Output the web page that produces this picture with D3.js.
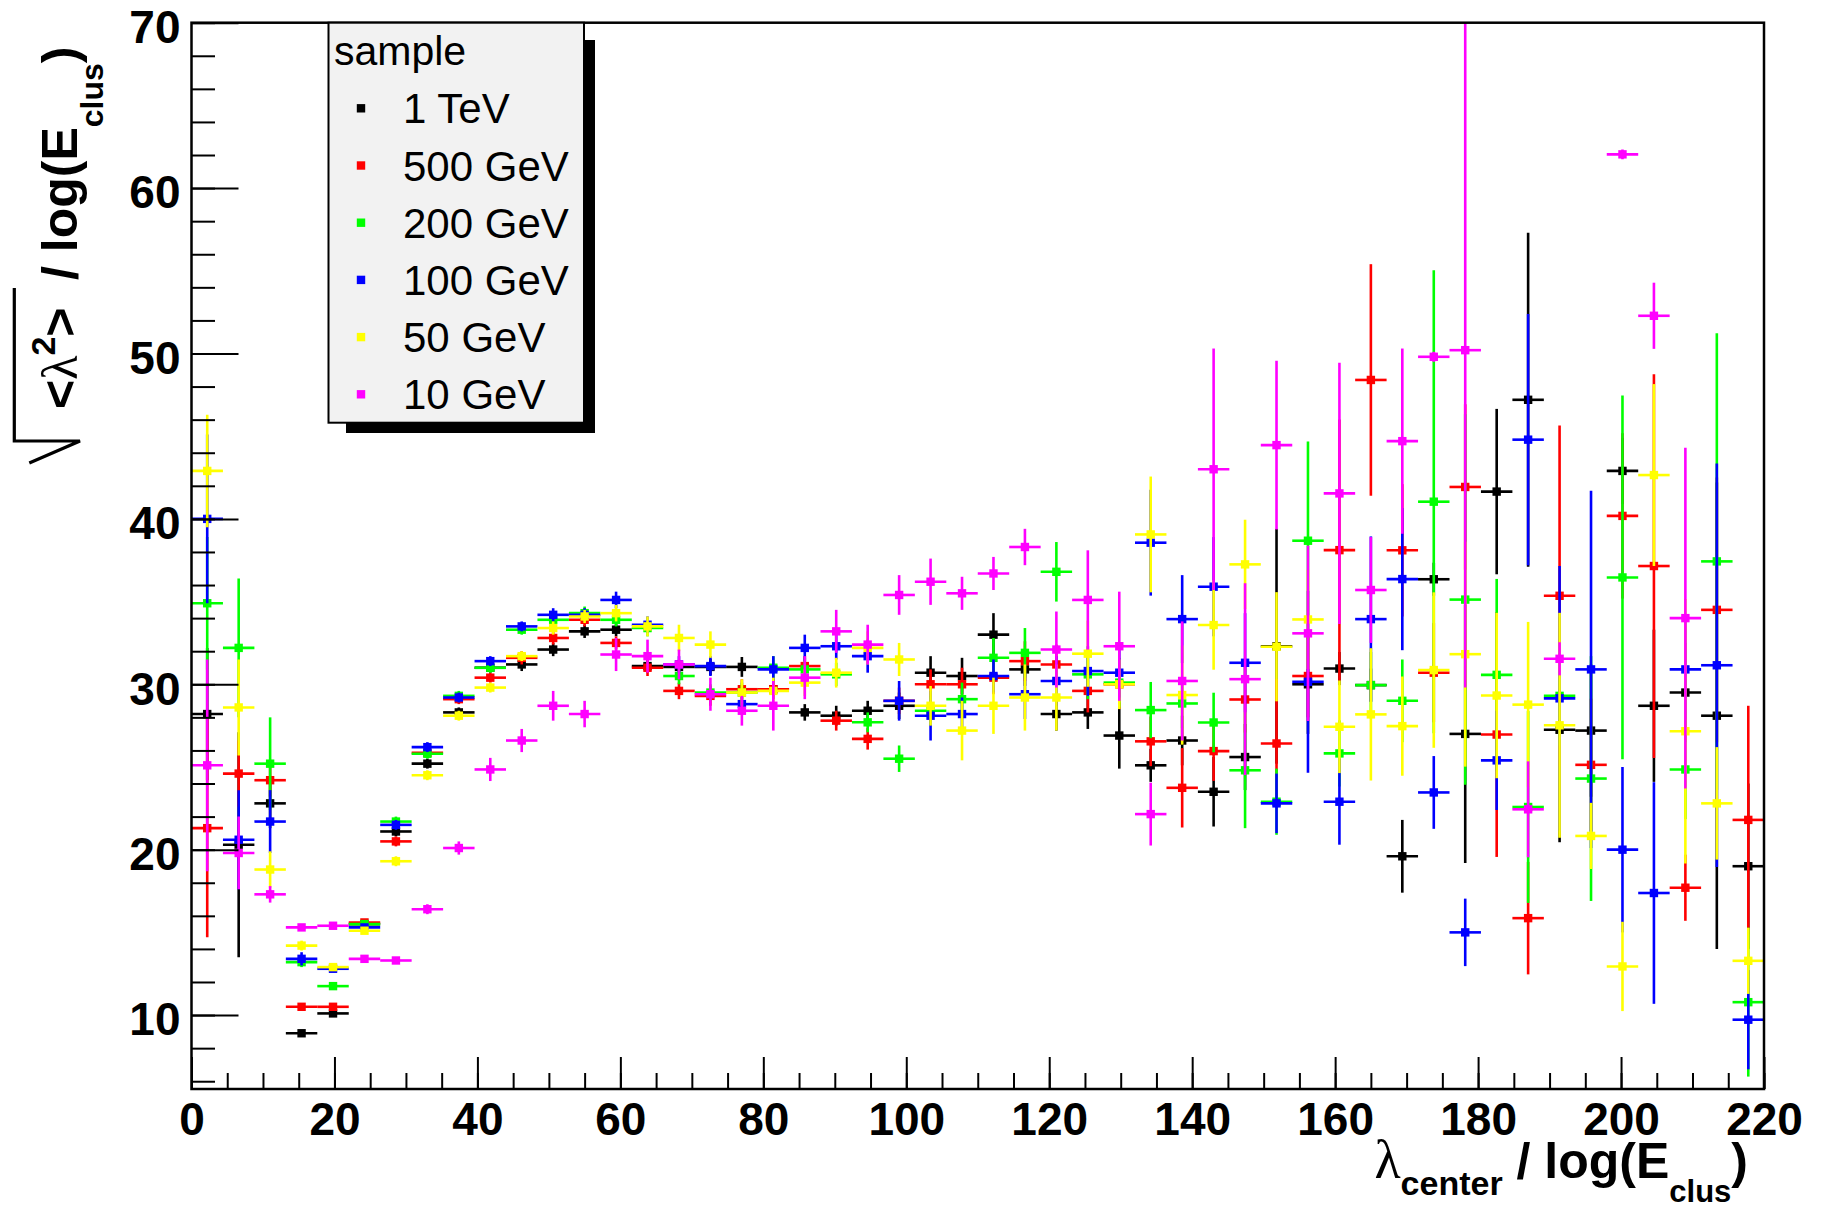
<!DOCTYPE html>
<html>
<head>
<meta charset="utf-8">
<script src="https://cdn.jsdelivr.net/npm/d3@7"></script>
<style>
  body { margin: 0; background: #fff; }
</style>
</head>
<body>
<svg id="chart" width="1821" height="1210"></svg>
<script>
// histogram binning: 50 bins between 0 and 220
var nBins = 50, xLow = 0, xHigh = 220;

var xTickLabels = [0, 20, 40, 60, 80, 100, 120, 140, 160, 180, 200, 220];
var yTickLabels = [10, 20, 30, 40, 50, 60, 70];

var sampleNames = ["1 TeV", "500 GeV", "200 GeV", "100 GeV", "50 GeV", "10 GeV"];
var sampleColors = ["#000000", "#ff0000", "#00ff00", "#0000ff", "#ffff00", "#ff00ff"];

// bin contents and errors (null = empty bin)
var val1TeV = [28.2,20.3,22.8,8.9,10.1,15.5,21.1,25.2,28.3,31.0,
  31.2,32.1,33.2,33.3,31.1,31.05,31.05,31.05,29.7,28.3,
  28.1,28.4,28.7,30.7,30.5,33.0,30.9,28.2,28.3,26.9,
  25.1,26.6,23.5,25.6,32.3,30.0,30.95,29.95,19.6,36.35,
  27.0,41.65,47.2,27.25,27.2,42.9,28.7,29.5,28.1,19.0];
var err1TeV = [4,6.8,1.5,0.2,0.2,0.2,0.3,0.3,0.3,0.3,
  0.4,0.4,0.4,0.4,0.4,0.4,0.5,0.6,0.6,0.5,
  0.6,0.6,0.8,1.0,1.1,1.3,1.0,1.0,1.0,2.0,
  1.0,1.5,2.1,2.0,7.1,3.0,1.0,1.0,2.2,1.0,
  7.8,5.0,10.1,6.8,4.0,2.0,4.6,3.0,14.1,5.0];

var val500 = [21.3,24.6,24.2,10.5,10.5,15.6,20.5,25.85,29.1,30.4,
  31.6,32.8,33.9,32.5,31.0,29.6,29.3,29.7,29.7,31.1,
  27.8,26.7,29.0,30.0,30.0,30.4,31.4,31.2,29.6,30.0,
  26.55,23.74,25.96,29.08,26.42,30.5,38.11,48.4,38.1,30.7,
  41.93,26.96,15.86,35.35,25.13,40.18,37.15,17.7,34.5,21.8];
var err500 = [6.6,2.0,1.0,0.2,0.2,0.2,0.3,0.3,0.3,0.3,
  0.4,0.4,0.4,0.4,0.5,0.5,0.6,0.6,0.6,0.6,
  0.6,0.65,0.8,0.9,1.0,1.0,1.2,1.2,1.3,1.5,
  1.5,2.4,1.8,2.0,3.9,2.5,7.9,7.0,4.0,3.0,
  5.0,7.4,3.4,10.3,4.0,5.0,11.6,2.0,8.0,6.9];

var val200 = [34.9,32.2,25.2,13.2,11.75,15.5,21.7,25.8,29.3,31.0,
  33.3,33.9,34.3,33.9,33.4,30.5,29.5,29.5,31.0,30.9,
  30.6,27.7,25.5,28.4,29.1,31.6,31.9,36.8,30.6,30.1,
  28.44,28.84,27.69,24.8,22.9,38.68,25.82,29.95,29.0,41.04,
  35.12,30.57,22.58,29.3,24.3,36.46,null,24.85,37.43,10.78];
var err200 = [4.0,4.2,2.8,0.3,0.2,0.2,0.3,0.3,0.3,0.3,
  0.3,0.4,0.4,0.4,0.5,0.5,0.5,0.6,0.7,0.7,
  0.7,0.6,0.8,0.9,1.0,1.2,1.5,1.8,1.5,1.5,
  1.7,1.5,1.8,3.5,2.0,6.0,2.0,2.0,2.5,14.0,
  11.2,5.8,5.8,3.0,7.4,11.0,0,3.0,13.8,4.5];

var val100 = [40.0,20.6,21.7,13.4,12.8,15.3,21.5,26.2,29.2,31.4,
  33.5,34.2,34.2,35.1,33.6,31.2,31.1,28.8,30.9,32.2,
  32.3,31.7,29.0,28.1,28.2,30.5,29.4,30.2,30.8,30.7,
  38.56,33.94,35.9,31.3,22.8,30.15,22.9,33.94,36.36,23.46,
  15.0,25.4,44.79,29.15,30.9,20.0,17.38,30.9,31.15,9.72];
var err100 = [5.1,3.0,1.9,0.4,0.2,0.2,0.3,0.3,0.3,0.3,
  0.3,0.4,0.4,0.5,0.5,0.5,0.6,0.6,0.8,0.8,
  0.8,1.0,1.2,1.5,1.0,1.0,1.5,1.5,1.5,1.5,
  3.2,2.66,3.0,3.0,1.8,5.5,2.6,5.0,4.3,2.2,
  2.04,3.0,7.6,8.0,10.8,5.0,6.7,3.0,12.2,3.0];

var val50 = [42.9,28.6,18.8,14.2,12.9,15.1,19.3,24.5,28.1,29.8,
  31.7,33.4,34.1,34.3,33.5,32.8,32.4,29.5,29.6,30.1,
  30.7,32.2,31.5,28.7,27.2,28.7,29.2,29.2,31.85,30.0,
  39.06,29.35,33.58,37.25,32.27,33.92,27.43,28.18,27.47,30.86,
  31.82,29.32,28.77,27.52,20.83,12.94,42.65,27.16,22.8,13.28];
var err50 = [3.4,2.9,1.1,0.3,0.2,0.2,0.3,0.3,0.3,0.3,
  0.3,0.4,0.4,0.5,0.6,0.8,0.8,0.8,0.8,0.8,
  0.9,1.0,1.0,1.2,1.8,1.7,2.0,2.0,2.0,1.5,
  3.5,3.0,2.7,2.7,3.3,3.0,2.8,4.0,3.0,4.7,
  6.8,5.0,5.0,6.8,2.0,2.7,5.5,8.0,3.4,2.0];

var val10 = [25.1,19.8,17.3,15.3,15.4,13.4,13.3,16.4,20.1,24.85,
  26.6,28.7,28.2,31.8,31.7,31.2,29.4,28.4,28.7,30.4,
  33.2,32.4,35.4,36.2,35.5,36.7,38.3,32.1,35.1,32.3,
  22.15,30.2,43.0,30.31,44.46,33.08,41.54,35.7,44.7,49.8,
  50.2,null,22.44,31.54,null,62.04,52.28,34.0,null,null];
var err10 = [6.4,2.2,0.5,0.2,0.2,0.2,0.2,0.3,0.4,0.7,
  0.7,0.9,0.8,1.0,1.0,0.9,1.0,0.9,1.5,1.3,
  1.3,1.2,1.2,1.4,1.0,1.0,1.1,2.3,3.0,3.3,
  1.9,3.6,7.3,5.8,5.1,5.3,7.9,3.2,5.6,0.3,
  20.4,0,2.9,1.0,0,0.3,2.0,10.3,0,0];

var allValues = [val1TeV, val500, val200, val100, val50, val10];
var allErrors = [err1TeV, err500, err200, err100, err50, err10];

function draw() {
  var svg = d3.select("#chart");
  var pLeft = 191.5, pRight = 1764, pTop = 22.7, pBottom = 1089;
  var binW = (xHigh - xLow) / nBins;

  var x = d3.scaleLinear().domain([xLow, xHigh]).range([pLeft, pRight]);
  var y = d3.scaleLinear().domain([5.53, 70]).range([pBottom, pTop]);

  svg.append("rect").attr("width", 1821).attr("height", 1210).attr("fill", "#fff");

  svg.append("clipPath").attr("id", "plotclip")
    .append("rect").attr("x", pLeft).attr("y", pTop)
    .attr("width", pRight - pLeft).attr("height", pBottom - pTop);

  // data: error bars + square markers, one histogram after the other
  var plot = svg.append("g").attr("clip-path", "url(#plotclip)");
  var lw = 2.6, ms = 8.4;
  allValues.forEach(function (vals, s) {
    var g = plot.append("g");
    var col = sampleColors[s];
    vals.forEach(function (v, i) {
      if (v === null) return;
      var e = allErrors[s][i];
      var lo = xLow + i * binW, hi = lo + binW, c = lo + binW / 2;
      g.append("line").attr("x1", x(lo)).attr("x2", x(hi))
        .attr("y1", y(v)).attr("y2", y(v))
        .attr("stroke", col).attr("stroke-width", lw);
      if (e > 0) {
        g.append("line").attr("x1", x(c)).attr("x2", x(c))
          .attr("y1", y(v - e)).attr("y2", y(v + e))
          .attr("stroke", col).attr("stroke-width", lw);
      }
      g.append("rect").attr("x", x(c) - ms / 2).attr("y", y(v) - ms / 2)
        .attr("width", ms).attr("height", ms).attr("fill", col);
    });
  });

  // axes, ticks pointing into the frame
  function styleAxis(g) {
    g.select(".domain").remove();
    g.selectAll("line").attr("stroke", "#000").attr("stroke-width", 2);
    g.selectAll("text").attr("fill", "#000")
      .style("font-family", "'Liberation Sans', Arial, sans-serif")
      .style("font-weight", "bold").style("font-size", "46px");
  }

  svg.append("g").attr("transform", "translate(0," + pBottom + ")")
    .call(d3.axisBottom(x).tickValues(d3.range(0, 221, 5)).tickSize(-16).tickFormat(""))
    .call(styleAxis);
  svg.append("g").attr("transform", "translate(0," + pBottom + ")")
    .call(d3.axisBottom(x).tickValues(xTickLabels).tickSize(-32).tickPadding(13)
      .tickFormat(d3.format("d")))
    .call(styleAxis);

  svg.append("g").attr("transform", "translate(" + pLeft + ",0)")
    .call(d3.axisLeft(y).tickValues(d3.range(6, 71, 2)).tickSize(-23.5).tickFormat(""))
    .call(styleAxis);
  svg.append("g").attr("transform", "translate(" + pLeft + ",0)")
    .call(d3.axisLeft(y).tickValues(yTickLabels).tickSize(-47).tickPadding(11)
      .tickFormat(d3.format("d")))
    .call(styleAxis)
    .selectAll("text").attr("dy", "0.43em");

  svg.append("rect").attr("x", pLeft).attr("y", pTop)
    .attr("width", pRight - pLeft).attr("height", pBottom - pTop)
    .attr("fill", "none").attr("stroke", "#000").attr("stroke-width", 2.5);

  // legend
  svg.append("rect").attr("x", 346).attr("y", 40).attr("width", 249).attr("height", 393)
    .attr("fill", "#000");
  svg.append("rect").attr("x", 328.5).attr("y", 22.7).attr("width", 255.5).attr("height", 400)
    .attr("fill", "#f2f2f2").attr("stroke", "#000").attr("stroke-width", 2);

  var sans = "'Liberation Sans', Arial, sans-serif";
  svg.append("text").attr("x", 334).attr("y", 65).text("sample")
    .style("font-family", sans).style("font-size", "41px");

  sampleNames.forEach(function (name, i) {
    var cy = 108.3 + i * 57.2;
    svg.append("rect").attr("x", 361 - 4.2).attr("y", cy - 4.2)
      .attr("width", 8.4).attr("height", 8.4).attr("fill", sampleColors[i]);
    svg.append("text").attr("x", 403).attr("y", cy + 15).text(name)
      .style("font-family", sans).style("font-size", "42px");
  });

  // x axis title
  var xt = svg.append("text").attr("x", 1748).attr("y", 1178)
    .attr("text-anchor", "end").style("font-family", sans).style("font-weight", "bold");
  xt.append("tspan").text("\u03bb").style("font-family", "'Liberation Serif', serif")
    .style("font-weight", "normal").style("font-size", "54px");
  xt.append("tspan").attr("dy", 17).text("center").style("font-size", "34px");
  xt.append("tspan").attr("dy", -17).text(" / log(E").style("font-size", "50px");
  xt.append("tspan").attr("dy", 24).text("clus").style("font-size", "31px");
  xt.append("tspan").attr("dy", -24).text(")").style("font-size", "50px");

  // y axis title: sqrt(<lambda^2>) / log(E_clus), rotated
  var ya = svg.append("text").attr("transform", "translate(77,409) rotate(-90)")
    .style("font-family", sans).style("font-weight", "bold");
  ya.append("tspan").text("<").style("font-size", "50px");
  ya.append("tspan").text("\u03bb").style("font-family", "'Liberation Serif', serif")
    .style("font-weight", "normal").style("font-size", "50px");
  ya.append("tspan").attr("dy", -22).text("2").style("font-size", "34px");
  ya.append("tspan").attr("dy", 22).text(">").style("font-size", "50px");

  var yb = svg.append("text").attr("transform", "translate(77,280) rotate(-90)")
    .style("font-family", sans).style("font-weight", "bold");
  yb.append("tspan").text("/ log(E").style("font-size", "50px");
  yb.append("tspan").attr("dy", 26).text("clus").style("font-size", "32px");
  yb.append("tspan").attr("dy", -26).text(")").style("font-size", "50px");

  svg.append("path").attr("d", "M14.3,288 L14.3,441 L80,441 L29.3,463")
    .attr("fill", "none").attr("stroke", "#000").attr("stroke-width", 3.2);
}

draw();
</script>
</body>
</html>
